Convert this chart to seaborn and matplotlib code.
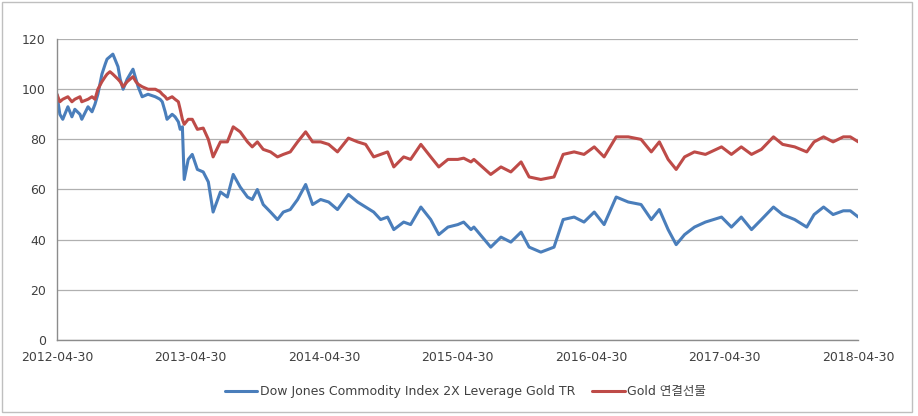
import pandas as pd
import numpy as np
import matplotlib
matplotlib.use("Agg")
import matplotlib.pyplot as plt
import matplotlib.dates as mdates
from matplotlib.patches import Rectangle
import seaborn as sns

# values
dates = [
    "2012-04-30", "2012-05-08", "2012-05-16", "2012-05-30", "2012-06-10", "2012-06-18",
    "2012-07-02", "2012-07-07", "2012-07-24", "2012-08-04", "2012-08-12", "2012-08-20",
    "2012-08-31", "2012-09-09", "2012-09-14", "2012-09-22", "2012-09-30", "2012-10-14",
    "2012-10-20", "2012-10-28", "2012-11-08", "2012-11-16", "2012-11-24", "2012-12-02",
    "2012-12-08", "2012-12-19", "2013-01-04", "2013-01-24", "2013-02-06", "2013-02-12",
    "2013-02-20", "2013-02-25", "2013-03-11", "2013-03-19", "2013-03-28", "2013-04-02",
    "2013-04-08", "2013-04-13", "2013-04-24", "2013-05-05", "2013-05-19", "2013-06-04",
    "2013-06-18", "2013-07-01", "2013-07-21", "2013-08-09", "2013-08-25", "2013-09-13",
    "2013-10-03", "2013-10-16", "2013-10-30", "2013-11-15", "2013-12-05", "2013-12-24",
    "2014-01-09", "2014-01-28", "2014-02-17", "2014-03-11", "2014-03-30", "2014-04-21",
    "2014-05-13", "2014-06-06", "2014-07-06", "2014-07-31", "2014-08-22", "2014-09-13",
    "2014-10-02", "2014-10-21", "2014-11-07", "2014-12-04", "2014-12-23", "2015-01-20",
    "2015-02-16", "2015-03-10", "2015-04-04", "2015-05-01", "2015-05-17", "2015-06-06",
    "2015-06-14", "2015-07-30", "2015-08-27", "2015-09-23", "2015-10-21", "2015-11-12",
    "2015-12-14", "2016-01-19", "2016-02-13", "2016-03-14", "2016-04-10", "2016-05-08",
    "2016-06-04", "2016-07-07", "2016-08-09", "2016-09-13", "2016-10-11", "2016-11-02",
    "2016-11-26", "2016-12-18", "2017-01-10", "2017-02-06", "2017-03-08", "2017-04-21",
    "2017-05-18", "2017-06-14", "2017-07-12", "2017-08-08", "2017-09-10", "2017-10-05",
    "2017-11-07", "2017-12-10", "2017-12-30", "2018-01-25", "2018-02-20", "2018-03-20",
    "2018-04-08", "2018-04-30",
]

gold_futures = [
    98, 95, 96, 97, 95, 96,
    97, 95, 96, 97, 96, 100,
    103, 105, 106, 107, 106, 104,
    103, 101, 103, 104, 105, 103,
    102, 101, 100, 100, 99, 98,
    97, 96, 97, 96, 95, 92,
    88, 86, 88, 88, 84, 84.5,
    80, 73, 79, 79, 85, 83,
    79, 77, 79, 76, 75, 73,
    74, 75, 79, 83, 79, 79,
    78, 75, 80.5, 79, 78, 73,
    74, 75, 69, 73, 72, 78,
    73, 69, 72, 72, 72.5, 71,
    72, 66, 69, 67, 71, 65,
    64, 65, 74, 75, 74, 77,
    73, 81, 81, 80, 75, 79,
    72, 68, 73, 75, 74, 77,
    74, 77, 74, 76, 81, 78,
    77, 75, 79, 81, 79, 81,
    81, 79,
]

djci_2x_gold = [
    98, 90, 88, 93, 89, 92,
    90, 88, 93, 91, 94, 98,
    106, 110, 112, 113, 114, 109,
    104, 100, 104, 106, 108, 104,
    101, 97, 98, 97, 96, 95,
    91, 88, 90, 89, 87, 84,
    85, 64, 72, 74, 68, 67,
    63, 51, 59, 57, 66, 61,
    57, 56, 60, 54, 51, 48,
    51, 52, 56, 62, 54, 56,
    55, 52, 58, 55, 53, 51,
    48, 49, 44, 47, 46, 53,
    48, 42, 45, 46, 47, 44,
    45, 37, 41, 39, 43, 37,
    35, 37, 48, 49, 47, 51,
    46, 57, 55, 54, 48, 52,
    44, 38, 42, 45, 47, 49,
    45, 49, 44, 48, 53, 50,
    48, 45, 50, 53, 50, 51.5,
    51.5, 49,
]

series_names = ["Dow Jones Commodity Index 2X Leverage Gold TR", "Gold 연결선물"]
year_ticks = ["2012-04-30", "2013-04-30", "2014-04-30", "2015-04-30",
              "2016-04-30", "2017-04-30", "2018-04-30"]
y_ticks = [0, 20, 40, 60, 80, 100, 120]

df = pd.DataFrame({
    "date": pd.to_datetime(dates * 2),
    "value": djci_2x_gold + gold_futures,
    "series": [series_names[0]] * len(dates) + [series_names[1]] * len(dates),
})

sns.set_style("white")
plt.rcParams["font.family"] = ["DejaVu Sans", "Noto Sans CJK KR"]

fig = plt.figure(figsize=(9.18, 4.16), dpi=100)
ax = fig.add_axes([0.062, 0.183, 0.873, 0.723])

sns.lineplot(data=df, x="date", y="value", hue="series",
             palette=["#4A7EBB", "#BE4B48"], linewidth=2.2, ax=ax)

ax.set_xlim(pd.Timestamp(year_ticks[0]), pd.Timestamp(year_ticks[-1]))
ax.set_ylim(0, 120)
ax.set_yticks(y_ticks)
ax.set_xticks(pd.to_datetime(year_ticks))
ax.xaxis.set_major_formatter(mdates.DateFormatter("%Y-%m-%d"))
ax.set_xlabel("")
ax.set_ylabel("")

ax.grid(axis="y", color="#b0b0b0", linewidth=0.9)
ax.set_axisbelow(True)
for side in ["top", "right"]:
    ax.spines[side].set_visible(False)
for side in ["left", "bottom"]:
    ax.spines[side].set_color("#8c8c8c")
    ax.spines[side].set_linewidth(1.0)
ax.tick_params(axis="both", which="major", direction="out", length=4,
               color="#8c8c8c", labelsize=9, labelcolor="#404040", pad=4)

handles, labels = ax.get_legend_handles_labels()
ax.legend(handles, labels, loc="center", bbox_to_anchor=(0.507, 0.058),
          bbox_transform=fig.transFigure, ncol=2, frameon=False, fontsize=9,
          handlelength=2.6, handletextpad=0.2, columnspacing=1.4,
          labelcolor="#404040")

# thin chart-area border like the original
fig.patches.append(Rectangle((0.002, 0.01), 0.992, 0.985, transform=fig.transFigure,
                             fill=False, edgecolor="#bfbfbf", linewidth=1.0))

plt.savefig("out.png", dpi=100)
